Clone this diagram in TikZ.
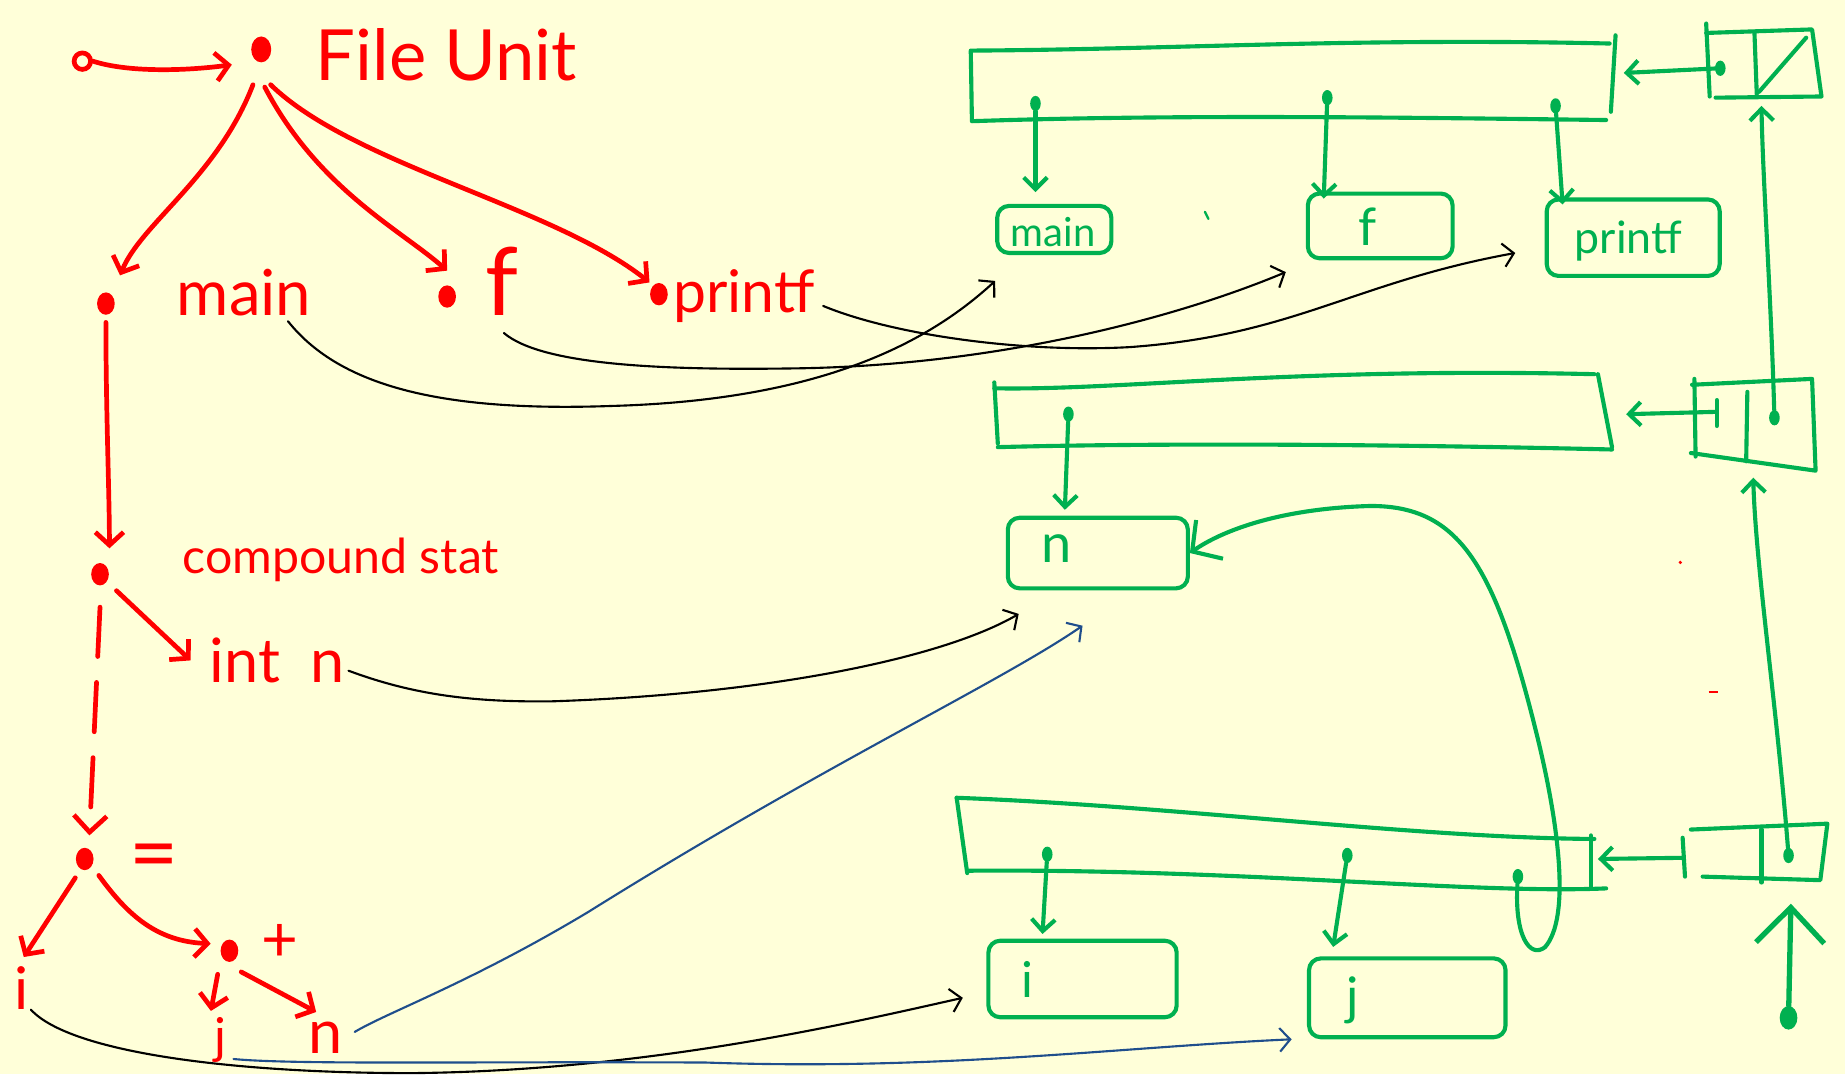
\documentclass[tikz,border=0pt]{standalone}
\usepackage{fontspec}
\setmainfont{Lato}
\usetikzlibrary{arrows.meta,calc,shapes.geometric}
\definecolor{bg}{HTML}{FFFFD9}
\definecolor{hred}{HTML}{FF0000}
\definecolor{hgreen}{HTML}{00B050}
\definecolor{hblue}{HTML}{1F4E8C}
\begin{document}
\begin{tikzpicture}[x=1pt,y=-1pt,
  rl/.style={draw=hred,line width=4pt,line cap=round,line join=round},
  ra/.style={rl,-{Straight Barb[length=11pt,width=24pt]}},
  rdot/.style={fill=hred,ellipse,minimum width=15pt,minimum height=19pt,inner sep=0pt},
  rt/.style={text=hred,inner sep=0pt,anchor=base west},
  gl/.style={draw=hgreen,line width=3.5pt,line cap=round,line join=round},
  ga/.style={gl,-{Straight Barb[length=10pt,width=20pt]}},
  gdot/.style={fill=hgreen,ellipse,minimum width=9pt,minimum height=13pt,inner sep=0pt},
  gbox/.style={gl,rounded corners=10pt,inner sep=0pt},
  gt/.style={text=hgreen,inner sep=0pt},
  kl/.style={draw=black,line width=1.8pt,line cap=round,-{Straight Barb[length=9pt,width=20pt]}},
  bl/.style={kl,draw=hblue}]
\fill[bg] (0,0) rectangle (1568,913);
\useasboundingbox (0,0) rectangle (1568,913);

% ---------- red tree ----------
\node[draw=hred,line width=4pt,circle,minimum size=14pt,inner sep=0pt] (start) at (70,52) {};
\node[rdot,minimum width=17pt,minimum height=22pt] (fu) at (222,42) {};
\node[rt,font=\fontsize{60}{60}\selectfont] (fut) at (268,68) {File Unit};
\draw[ra] (start.east) .. controls (110,62) and (160,60) .. ($(fu)+(-25,13)$);

\node[rdot] (md) at (90,258) {};
\node[rdot] (fd) at (380,252) {};
\node[rdot] (pd) at (560,250) {};
\node[rt,font=\fontsize{54}{54}\selectfont] (mainl) at (150,268) {main};
\node[rt,font=\fontsize{80}{80}\selectfont] (fl) at (412,268) {f};
\node[rt,font=\fontsize{50}{50}\selectfont] (pl) at (572,266) {printf};
\draw[ra] ($(fu)+(-7,30)$) .. controls (185,150) and (120,190) .. ($(md)+(12,-24)$);
\draw[ra] ($(fu)+(3,32)$) .. controls (270,160) and (340,195) .. ($(fd)+(0,-22)$);
\draw[ra] ($(fu)+(8,30)$) .. controls (300,140) and (470,175) .. ($(pd)+(-8,-10)$);

\node[rdot] (cd) at (85,488) {};
\draw[ra] ($(md)+(0,16)$) .. controls (90,350) and (93,420) .. ($(cd)+(8,-22)$);
\node[rt,font=\fontsize{41}{41}\selectfont] (csl) at (155,487) {compound stat};
\node[rt,font=\fontsize{52}{52}\selectfont] (intl) at (178,580) {int\hspace{0.5em}n};
\draw[ra] ($(cd)+(14,14)$) -- ($(intl.west)+(-16,0)$);

\node[rdot] (ed) at (72,730) {};
\draw[rl,dash pattern=on 42pt off 22pt,-{Straight Barb[length=14pt,width=28pt]}] ($(cd)+(0,28)$) -- ($(ed)+(4,-20)$);
\node[rt,font=\fontsize{72}{72}\selectfont] (eql) at (110,750) {=};
\node[rt,font=\fontsize{50}{50}\selectfont] (il) at (12,858) {i};
\draw[ra] ($(ed)+(-8,16)$) -- ($(il.north)+(2,-8)$);
\node[rdot] (pld) at (195,808) {};
\node[rt,font=\fontsize{54}{54}\selectfont] (plusl) at (222,817) {+};
\draw[ra] ($(ed)+(12,14)$) .. controls (110,780) and (135,800) .. ($(pld)+(-16,-6)$);
\node[rt,font=\fontsize{42}{42}\selectfont] (jl) at (182,895) {j};
\node[rt,font=\fontsize{52}{52}\selectfont] (nl) at (262,895) {n};
\draw[ra] ($(pld)+(-10,20)$) -- ($(jl.north)+(-8,-5)$);
\draw[ra] ($(pld)+(10,18)$) -- ($(nl.north)+(-8,-8)$);

% ---------- green structures ----------
% top table
\draw[gl] (1368,37) .. controls (1150,32) and (1000,42) .. (825,43) -- (826,103) .. controls (1000,97) and (1200,100) .. (1365,102);
\draw[gl] (1373,30) -- (1369,95);
\node[gdot] (t1) at (880,88) {};
\node[gdot] (t2) at (1128,83) {};
\node[gdot] (t3) at (1322,90) {};
\node[gbox,minimum width=97pt,minimum height=40pt] (bmain) at (896,195) {};
\node[gt,font=\fontsize{34}{34}\selectfont] at (895,197) {main};
\node[gbox,minimum width=123pt,minimum height=55pt] (bf) at (1173,192) {};
\node[gt,font=\fontsize{44}{44}\selectfont] at (1162,193) {f};
\node[gbox,minimum width=147pt,minimum height=65pt] (bprintf) at (1388,202) {};
\node[gt,font=\fontsize{38}{38}\selectfont] at (1384,205) {printf};
\draw[ga,shorten >=10pt] (t1) -- (t1 |- bmain.north);
\draw[ga] (t2) -- ($(t2 |- bf.north)+(-3,6)$);
\draw[ga] (t3) -- ($(t3 |- bprintf.north)+(6,6)$);
\draw[hgreen,line width=2pt,line cap=round] (1024,180) -- (1027,186);

% middle table
\draw[gl] (1355,318) .. controls (1100,312) and (950,332) .. (845,330);
\draw[gl] (845,325) -- (848,377);
\draw[gl] (848,380) .. controls (1000,376) and (1200,378) .. (1370,382);
\draw[gl] (1358,318) -- (1370,380);
\node[gdot] (m1) at (908,352) {};
\node[gbox,minimum width=153pt,minimum height=60pt] (bn) at (933,470) {};
\node[gt,font=\fontsize{46}{46}\selectfont] at (898,466) {n};
\draw[ga] (m1) -- ($(m1 |- bn.north)+(-3,-5)$);

% bottom table
\draw[gl] (813,678) .. controls (1000,685) and (1200,712) .. (1355,713);
\draw[gl] (813,678) -- (822,742);
\draw[gl] (822,740) .. controls (1050,738) and (1250,760) .. (1365,755);
\draw[gl] (1352,710) -- (1352,755);
\node[gdot] (b1) at (890,726) {};
\node[gdot] (b2) at (1145,727) {};
\node[gdot] (b3) at (1290,745) {};
\node[gbox,minimum width=160pt,minimum height=65pt] (bi) at (920,832) {};
\node[gt,font=\fontsize{42}{42}\selectfont] at (873,832) {i};
\node[gbox,minimum width=167pt,minimum height=67pt] (bj) at (1196,848) {};
\node[gt,font=\fontsize{44}{44}\selectfont] at (1150,850) {j};
\draw[ga] (b1) -- ($(b1 |- bi.north)+(-4,-4)$);
\draw[ga] (b2) -- ($(b2 |- bj.north)+(-12,-8)$);
\draw[gl,-{Straight Barb[length=18pt,width=40pt]}] (b3) .. controls (1287,795) and (1300,815) .. (1313,805) .. controls (1335,780) and (1325,700) .. (1305,620) .. controls (1270,480) and (1240,430) .. (1165,430) .. controls (1090,432) and (1040,450) .. (bn.east);

% scope cells on the right
\coordinate (r1e) at (1380,62);
\coordinate (r2e) at (1382,352);
\coordinate (r3e) at (1358,730);
\draw[gl] (1450,20) -- (1453,82);
\draw[gl] (1450,28) -- (1540,25) -- (1548,82) -- (1458,83);
\draw[gl] (1491,27) -- (1493,80);
\draw[gl] (1495,78) -- (1535,32);
\node[gdot] (c1d) at (1462,58) {};
\coordinate (c1b) at (1497,90);
\draw[ga] (c1d) -- (r1e);

\draw[gl] (1440,322) -- (1441,388);
\draw[gl] (1438,327) -- (1540,322) -- (1543,400) -- (1437,385);
\draw[gl] (1485,333) -- (1484,392);
\node[gdot] (c2d) at (1508,355) {};
\coordinate (c2t) at (1459,350);
\coordinate (c2b) at (1490,406);
\draw[gl] (1459,340) -- (1459,362);
\draw[ga] (c2t) -- (r2e);
\draw[ga] (c2d) .. controls (1505,250) and (1498,150) .. (c1b);

\draw[gl] (1437,705) -- (1553,700) -- (1547,748) -- (1447,745);
\draw[gl] (1497,705) -- (1497,750);
\node[gdot] (c3d) at (1520,727) {};
\coordinate (c3t) at (1431,729);
\draw[gl] (1430,712) -- (1432,745);
\draw[ga] (c3t) -- (r3e);
\draw[ga] (c3d) .. controls (1510,600) and (1492,480) .. (c2b);

\node[gdot,minimum width=15pt,minimum height=20pt] (sd) at (1520,865) {};
\draw[gl,line width=4.5pt,-{Straight Barb[length=30pt,width=58pt]}] (sd) -- (1522,768);

\fill[hred] (1428,478) circle (1.5pt);
\draw[hred,line width=2pt] (1452,588) -- (1460,588);

% ---------- black / blue links ----------
\draw[kl] ($(mainl.base east)+(-20,5)$) .. controls (290,330) and (380,350) .. (520,345) .. controls (700,340) and (790,290) .. ($(bmain.south west)+(0,22)$);
\draw[kl] ($(fl.base)+(2,15)$) .. controls (460,310) and (560,315) .. (680,313) .. controls (850,310) and (1000,270) .. ($(bf.south west)+(-17,10)$);
\draw[kl] ($(pl.base east)+(7,-6)$) .. controls (760,285) and (870,300) .. (960,295) .. controls (1100,285) and (1150,240) .. ($(bprintf.west)+(-25,13)$);
\draw[kl] ($(intl.base east)+(3,-10)$) .. controls (350,590) and (400,597) .. (470,596) .. controls (650,590) and (800,560) .. ($(bn.south west)+(11,20)$);
\draw[kl] ($(il.base)+(8,0)$) .. controls (60,895) and (200,912) .. (350,912) .. controls (550,910) and (720,870) .. ($(bi.west)+(-20,16)$);
\draw[bl] ($(jl.base east)+(6,5)$) .. controls (250,905) and (400,902) .. (600,903) .. controls (800,910) and (950,890) .. ($(bj.south west)+(-13,0)$);
\draw[bl] ($(nl.base east)+(10,-18)$) .. controls (330,860) and (400,835) .. (500,775) .. controls (700,650) and (850,580) .. ($(bn.south)+(-13,30)$);
\end{tikzpicture}
\end{document}
